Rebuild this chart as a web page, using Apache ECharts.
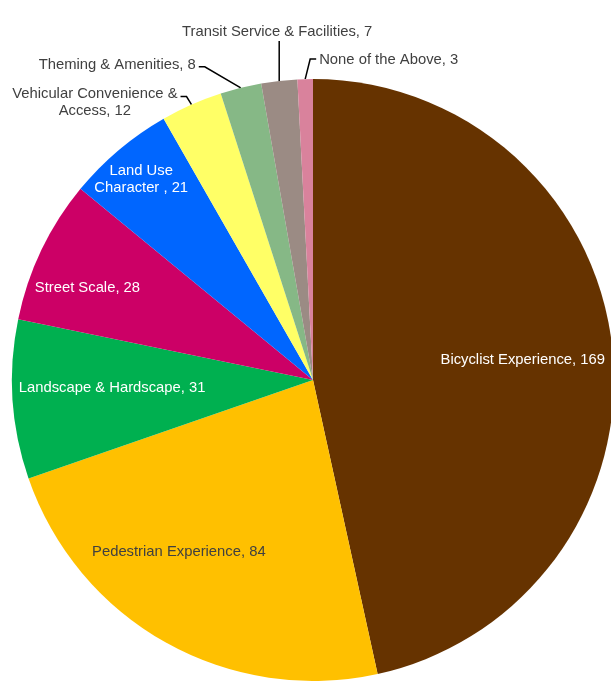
<!DOCTYPE html>
<html><head><meta charset="utf-8">
<script src="https://cdn.jsdelivr.net/npm/echarts@6/dist/echarts.min.js"></script>
<style>html,body{margin:0;padding:0;background:#fff}#c{width:611px;height:681px}</style>
</head><body><div id="c"></div>
<script>
// ---- data ----
const categories = ['Bicyclist Experience','Pedestrian Experience','Landscape & Hardscape','Street Scale','Land Use Character','Vehicular Convenience & Access','Theming & Amenities','Transit Service & Facilities','None of the Above'];
const values = [169, 84, 31, 28, 21, 12, 8, 7, 3];
const labelNames = ['Bicyclist Experience','Pedestrian Experience','Landscape & Hardscape','Street Scale','Land Use\nCharacter ','Vehicular Convenience &\nAccess','Theming & Amenities','Transit Service & Facilities','None of the Above'];

// ---- styles / layout ----
const colors = ['#663300','#FFC000','#00B050','#CC0066','#0066FF','#FFFF66','#86B886','#9B8B84','#D9829C'];
const labelColors = ['#ffffff','#404040','#ffffff','#ffffff','#ffffff','#404040','#404040','#404040','#404040'];
const CX = 313, CY = 380, R = 301;
const FONT = 14.8;
// inside labels: [angle deg clockwise from top, radius fraction]
const insidePos = {0:[84.6,0.70],1:[218,0.724],2:[267.7,0.668],3:[292.3,0.81],4:[319.4,0.877]};
// outside labels: elbow offset from slice edge, horizontal run, text placement
const guides = {
  5:{elbow:[-5,-8], run:-6, mode:'leftCenter', ty:6},
  6:{elbow:[-36,-21], run:-6, mode:'right', ty:-2},
  7:{elbow:[0,-40], run:0, mode:'top', ty:-9},
  8:{elbow:[5,-20], run:6, mode:'left', ty:1}
};

const total = values.reduce((a,b)=>a+b,0);
const midAngles = [];
let acc = 0;
values.forEach(v => { midAngles.push((acc + v/2) / total * 360); acc += v; });
function polar(aDeg, r){ const a = aDeg*Math.PI/180; return [CX + r*Math.sin(a), CY - r*Math.cos(a)]; }

const data = categories.map((c,i) => {
  const outside = guides[i] !== undefined;
  return {
    name: c, value: values[i],
    itemStyle: {color: colors[i]},
    label: {position: outside ? 'outside' : 'inside', color: labelColors[i]},
    labelLine: {show: outside, lineStyle: {color: '#000', width: 1.5}}
  };
});

const chart = echarts.init(document.getElementById('c'), null, {renderer:'canvas'});
chart.setOption({
  animation: false,
  series: [{
    type: 'pie',
    center: [CX, CY],
    radius: R,
    startAngle: 90,
    clockwise: true,
    avoidLabelOverlap: false,
    data: data,
    itemStyle: {borderWidth: 0},
    label: {
      show: true,
      fontFamily: '"Liberation Sans", Arial, sans-serif',
      fontSize: FONT,
      lineHeight: 17,
      formatter: p => labelNames[p.dataIndex] + ', ' + p.value
    },
    labelLine: {length: 10, length2: 6},
    labelLayout: function(p){
      const i = p.dataIndex;
      const w = p.labelRect.width;
      if (insidePos[i]) {
        const pt = polar(insidePos[i][0], insidePos[i][1]*R);
        return {x: pt[0], y: pt[1], align: 'center', verticalAlign: 'middle'};
      }
      const g = guides[i];
      const e = polar(midAngles[i], R);
      const el = [e[0]+g.elbow[0], e[1]+g.elbow[1]];
      const en = [el[0]+g.run, el[1]];
      const pts = [e, el, en];
      if (g.mode === 'leftCenter') return {x: en[0]-3-w/2, y: en[1]+g.ty, align:'center', verticalAlign:'middle', labelLinePoints: pts};
      if (g.mode === 'right') return {x: en[0]-3, y: en[1]+g.ty, align:'right', verticalAlign:'middle', labelLinePoints: pts};
      if (g.mode === 'left') return {x: en[0]+3, y: en[1]+g.ty, align:'left', verticalAlign:'middle', labelLinePoints: pts};
      return {x: en[0]-2, y: en[1]+g.ty, align:'center', verticalAlign:'middle', labelLinePoints: pts};
    }
  }]
});
</script>
</body></html>
